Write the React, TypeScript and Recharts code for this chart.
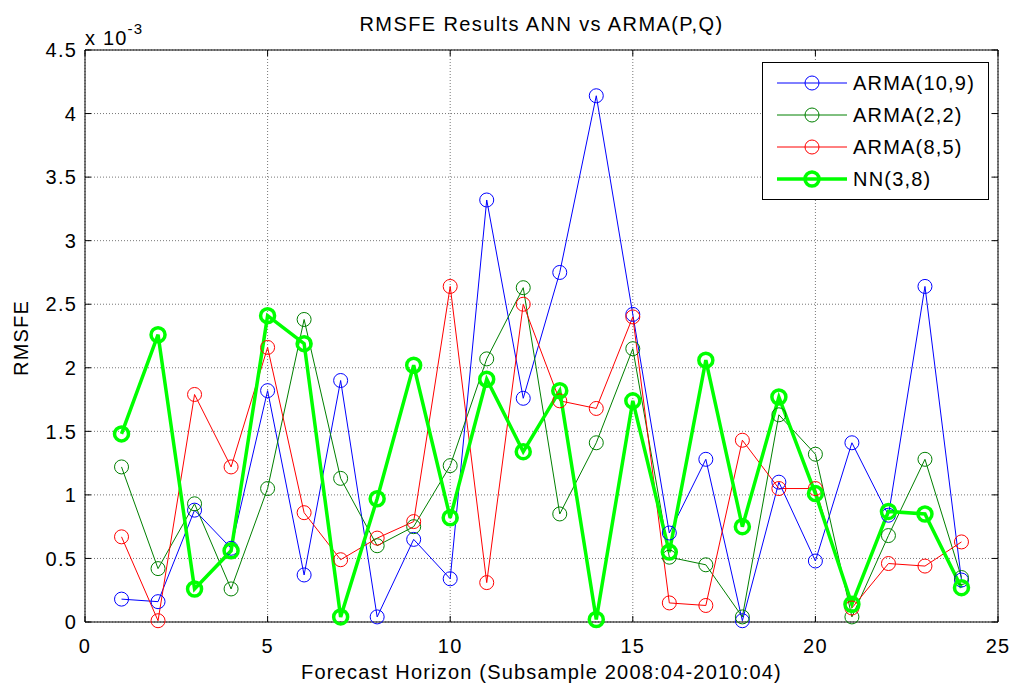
import React from "react";
import {
  LineChart,
  Line,
  XAxis,
  YAxis,
  CartesianGrid,
  ReferenceLine,
} from "recharts";

document.body.style.margin = "0";

// forecast horizon (x) and RMSFE values, in units of 1e-3
const horizons = [
  1, 2, 3, 4, 5, 6, 7, 8, 9, 10, 11, 12, 13, 14, 15, 16, 17, 18, 19, 20, 21, 22, 23, 24,
];
const arma109 = [
  0.18, 0.16, 0.88, 0.58, 1.82, 0.37, 1.9, 0.04, 0.65, 0.34, 3.32, 1.76, 2.75, 4.14,
  2.42, 0.7, 1.28, 0.01, 1.1, 0.48, 1.41, 0.84, 2.64, 0.33,
];
const arma22 = [
  1.22, 0.42, 0.93, 0.26, 1.05, 2.38, 1.13, 0.6, 0.75, 1.23, 2.07, 2.63, 0.85, 1.41,
  2.15, 0.51, 0.45, 0.04, 1.63, 1.32, 0.04, 0.68, 1.28, 0.35,
];
const arma85 = [
  0.67, 0.01, 1.79, 1.22, 2.16, 0.86, 0.49, 0.66, 0.79, 2.64, 0.31, 2.5, 1.74, 1.68,
  2.4, 0.15, 0.13, 1.43, 1.05, 1.05, 0.11, 0.46, 0.44, 0.63,
];
const nn38 = [
  1.48, 2.26, 0.26, 0.56, 2.41, 2.19, 0.04, 0.97, 2.02, 0.82, 1.91, 1.34, 1.82, 0.02,
  1.74, 0.55, 2.06, 0.75, 1.77, 1.01, 0.14, 0.87, 0.85, 0.27,
];

const xTicks = [0, 5, 10, 15, 20, 25];
const yTicks = [0, 0.5, 1, 1.5, 2, 2.5, 3, 3.5, 4, 4.5];

const series = [
  { key: "arma109", name: "ARMA(10,9)", color: "#0000ff", width: 1, values: arma109 },
  { key: "arma22", name: "ARMA(2,2)", color: "#008000", width: 1, values: arma22 },
  { key: "arma85", name: "ARMA(8,5)", color: "#ff0000", width: 1, values: arma85 },
  { key: "nn38", name: "NN(3,8)", color: "#00ff00", width: 3.5, values: nn38 },
];

const data = horizons.map((h, i) => {
  const row: Record<string, number> = { h };
  series.forEach((s) => (row[s.key] = s.values[i]));
  return row;
});

const W = 1012;
const H = 684;
const LEFT = 85;
const RIGHT = 998;
const TOP = 50;
const BOTTOM = 622;
const FONT = '"Liberation Sans", Arial, sans-serif';
const FS = 20;
const LS = 1.2; // matlab text is set a bit wider than plain arial

const YTick = ({ x, y, payload }: any) => (
  <g>
    <text
      x={x}
      y={y}
      dy="0.36em"
      textAnchor="end"
      fontSize={FS}
      letterSpacing={LS}
      fill="#000"
      fontFamily={FONT}
    >
      {payload.value}
    </text>
    <line x1={LEFT} x2={LEFT + 6} y1={y} y2={y} stroke="#000" />
    <line x1={RIGHT} x2={RIGHT - 6} y1={y} y2={y} stroke="#000" />
  </g>
);

const XTick = ({ x, y, payload }: any) => (
  <g>
    <text
      x={x}
      y={y + 23}
      textAnchor="middle"
      fontSize={FS}
      letterSpacing={LS}
      fill="#000"
      fontFamily={FONT}
    >
      {payload.value}
    </text>
    <line x1={x} x2={x} y1={BOTTOM} y2={BOTTOM - 6} stroke="#000" />
    <line x1={x} x2={x} y1={TOP} y2={TOP + 6} stroke="#000" />
  </g>
);

const XLabel = ({ viewBox }: any) => (
  <text
    x={viewBox.x + viewBox.width / 2}
    y={H - 5}
    textAnchor="middle"
    fontSize={FS}
    letterSpacing={LS}
    fontFamily={FONT}
    fill="#000"
  >
    Forecast Horizon (Subsample 2008:04-2010:04)
  </text>
);

const YLabel = ({ viewBox }: any) => {
  const cx = 21;
  const cy = viewBox.y + viewBox.height / 2 + 2;
  return (
    <text
      x={cx}
      y={cy}
      transform={`rotate(-90 ${cx} ${cy})`}
      textAnchor="middle"
      dy="0.36em"
      fontSize={FS}
      letterSpacing={LS}
      fontFamily={FONT}
      fill="#000"
    >
      RMSFE
    </text>
  );
};

const LegendBox = () => (
  <div
    style={{
      position: "absolute",
      left: 762,
      top: 62,
      width: 227,
      height: 138,
      border: "1px solid #000",
      background: "#fff",
      fontFamily: FONT,
      fontSize: FS,
      letterSpacing: LS,
      paddingTop: 4,
      boxSizing: "border-box",
    }}
  >
    {series.map((s) => (
      <div key={s.key} style={{ display: "flex", alignItems: "center", height: 32 }}>
        <svg width={90} height={32}>
          <line x1={14} x2={84} y1={16} y2={16} stroke={s.color} strokeWidth={s.width} />
          <circle cx={49} cy={16} r={7} fill="none" stroke={s.color} strokeWidth={s.width} />
        </svg>
        <span>{s.name}</span>
      </div>
    ))}
  </div>
);

export default function App() {
  return (
    <div style={{ position: "relative", width: W, height: H, background: "#fff", fontFamily: FONT }}>
      <div
        style={{
          position: "absolute",
          left: LEFT,
          width: RIGHT - LEFT,
          top: 13,
          textAlign: "center",
          fontSize: FS,
          letterSpacing: 1.4,
        }}
      >
        RMSFE Results ANN vs ARMA(P,Q)
      </div>
      <div style={{ position: "absolute", left: LEFT, top: 21, fontSize: FS, letterSpacing: LS, lineHeight: "22px" }}>
        x 10<sup style={{ fontSize: 15, position: "relative", top: -3 }}>-3</sup>
      </div>
      <LineChart
        width={W}
        height={H}
        data={data}
        margin={{ top: TOP, right: W - RIGHT, bottom: 0, left: 0 }}
      >
        <CartesianGrid stroke="#777" strokeDasharray="1 2" />
        <XAxis
          dataKey="h"
          type="number"
          domain={[0, 25]}
          ticks={xTicks}
          height={H - BOTTOM}
          stroke="#000"
          tickLine={false}
          tick={<XTick />}
          label={<XLabel />}
        />
        <YAxis
          type="number"
          domain={[0, 4.5]}
          ticks={yTicks}
          width={LEFT}
          stroke="#000"
          tickLine={false}
          tick={<YTick />}
          label={<YLabel />}
        />
        <ReferenceLine y={4.5} stroke="#000" />
        <ReferenceLine x={25} stroke="#000" />
        {series.map((s) => (
          <Line
            key={s.key}
            type="linear"
            dataKey={s.key}
            name={s.name}
            stroke={s.color}
            strokeWidth={s.width}
            dot={{ r: 7, fill: "none", stroke: s.color, strokeWidth: s.width }}
            activeDot={false}
            isAnimationActive={false}
          />
        ))}
      </LineChart>
      <LegendBox />
    </div>
  );
}
